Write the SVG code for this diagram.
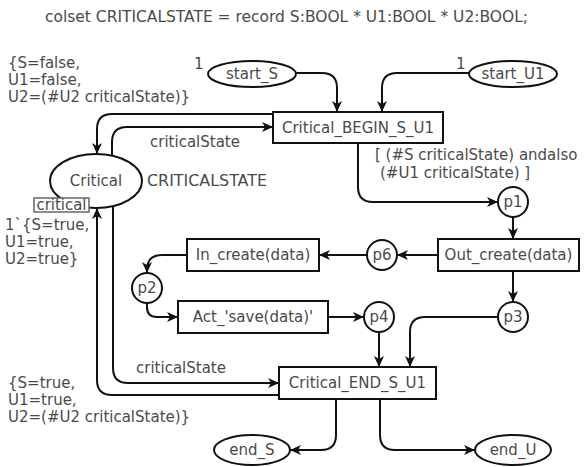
<svg xmlns="http://www.w3.org/2000/svg" width="584" height="467" viewBox="0 0 584 467">
<style>
text{font-family:"DejaVu Sans",Verdana,sans-serif;font-size:15px;fill:#4a4a4a}
.c{text-anchor:middle}
.n{fill:#fff;stroke:#111;stroke-width:2}
.e{fill:none;stroke:#111;stroke-width:2}
</style>
<defs>
<marker id="a" markerUnits="userSpaceOnUse" markerWidth="12" markerHeight="10" refX="11" refY="5" orient="auto">
<path d="M0,0 L11,5 L0,10 L3,5 z" fill="#111"/>
</marker>
</defs>
<rect width="584" height="467" fill="#fff"/>
<text x="45" y="22" textLength="483" lengthAdjust="spacingAndGlyphs">colset CRITICALSTATE = record S:BOOL * U1:BOOL * U2:BOOL;</text>
<g id="labels">
<text x="8" y="68">{S=false,</text>
<text x="8" y="85">U1=false,</text>
<text x="8" y="102">U2=(#U2 criticalState)}</text>
<text x="150" y="147">criticalState</text>
<text x="375" y="160">[ (#S criticalState) andalso</text>
<text x="380" y="178">(#U1 criticalState) ]</text>
<text x="136" y="373">criticalState</text>
<text x="8" y="388">{S=true,</text>
<text x="8" y="405">U1=true,</text>
<text x="8" y="422">U2=(#U2 criticalState)}</text>
</g>
<g id="connectors">
<path class="e" d="M296,73 H322 Q337,73 337,88 V112" marker-end="url(#a)"/>
<path class="e" d="M469,73 H397 Q382,73 382,88 V112" marker-end="url(#a)"/>
<path class="e" d="M273,114 H112 Q97,114 97,129 V154" marker-end="url(#a)"/>
<path class="e" d="M112,156 V142 Q112,127 127,127 H273" marker-end="url(#a)"/>
<path class="e" d="M279,395 H112 Q97,395 97,380 V208" marker-end="url(#a)"/>
<path class="e" d="M113,206 V368 Q113,383 128,383 H279" marker-end="url(#a)"/>
<path class="e" d="M358,143 V187 Q358,202 373,202 H498" marker-end="url(#a)"/>
<path class="e" d="M513,217 V239" marker-end="url(#a)"/>
<path class="e" d="M438,255 H397" marker-end="url(#a)"/>
<path class="e" d="M367,255 H319" marker-end="url(#a)"/>
<path class="e" d="M187,255 H162 Q147,255 147,270 V273" marker-end="url(#a)"/>
<path class="e" d="M147,303 V307 Q147,317 157,317 H178" marker-end="url(#a)"/>
<path class="e" d="M328,317 H364" marker-end="url(#a)"/>
<path class="e" d="M513,271 V302" marker-end="url(#a)"/>
<path class="e" d="M498,317 H425 Q410,317 410,332 V367" marker-end="url(#a)"/>
<path class="e" d="M379,332 V367" marker-end="url(#a)"/>
<path class="e" d="M336,399 V435 Q336,450 321,450 H290" marker-end="url(#a)"/>
<path class="e" d="M380,399 V435 Q380,450 395,450 H475" marker-end="url(#a)"/>
</g>
<g id="start_S"><ellipse class="n" cx="252" cy="74" rx="44" ry="13"/><text class="c" x="252" y="79">start_S</text><text x="194" y="69">1</text></g>
<g id="start_U1"><ellipse class="n" cx="513" cy="74" rx="44" ry="13"/><text class="c" x="513" y="79">start_U1</text><text x="456" y="69">1</text></g>
<g id="Critical_BEGIN_S_U1"><rect class="n" x="273" y="112" width="170" height="31"/><text class="c" x="358" y="133">Critical_BEGIN_S_U1</text></g>
<g id="Critical"><ellipse class="n" cx="96" cy="181" rx="46" ry="27"/><text class="c" x="96" y="186">Critical</text><text x="147" y="186" textLength="120" lengthAdjust="spacingAndGlyphs">CRITICALSTATE</text>
<rect x="34" y="198" width="55" height="14" fill="#fff" stroke="#666" stroke-width="1.5"/><text class="c" x="61.5" y="210" textLength="50" lengthAdjust="spacingAndGlyphs">critical</text>
<text x="5" y="230">1`{S=true,</text><text x="5" y="247">U1=true,</text><text x="5" y="264">U2=true}</text></g>
<g id="p1"><circle class="n" cx="513" cy="202" r="15"/><text class="c" x="513" y="207">p1</text></g>
<g id="Out_create"><rect class="n" x="438" y="239" width="141" height="32"/><text class="c" x="508.5" y="260">Out_create(data)</text></g>
<g id="p6"><circle class="n" cx="382" cy="255" r="15"/><text class="c" x="382" y="260">p6</text></g>
<g id="In_create"><rect class="n" x="187" y="239" width="132" height="32"/><text class="c" x="253" y="260">In_create(data)</text></g>
<g id="p2"><circle class="n" cx="147" cy="288" r="15"/><text class="c" x="147" y="293">p2</text></g>
<g id="Act_save"><rect class="n" x="178" y="301" width="150" height="32"/><text class="c" x="253" y="322">Act_'save(data)'</text></g>
<g id="p4"><circle class="n" cx="379" cy="317" r="15"/><text class="c" x="379" y="322">p4</text></g>
<g id="p3"><circle class="n" cx="513" cy="317" r="15"/><text class="c" x="513" y="322">p3</text></g>
<g id="Critical_END_S_U1"><rect class="n" x="279" y="367" width="157" height="32"/><text class="c" x="357.5" y="388">Critical_END_S_U1</text></g>
<g id="end_S"><ellipse class="n" cx="252" cy="450" rx="38" ry="15"/><text class="c" x="252" y="455">end_S</text></g>
<g id="end_U"><ellipse class="n" cx="513" cy="450" rx="38" ry="15"/><text class="c" x="513" y="455">end_U</text></g>
</svg>
